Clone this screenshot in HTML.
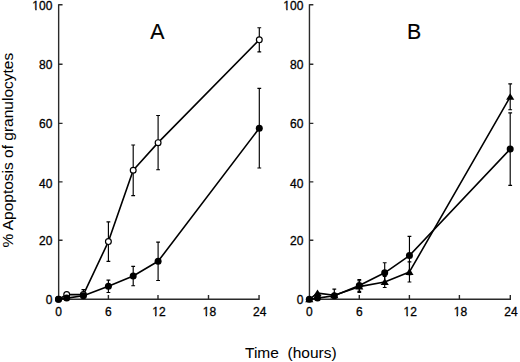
<!DOCTYPE html>
<html><head><meta charset="utf-8"><style>
html,body{margin:0;padding:0;background:#fff;}
body{width:520px;height:362px;overflow:hidden;}
svg{display:block;}
text{font-family:"Liberation Sans",sans-serif;fill:#000;stroke:#000;}
.tk{font-size:12px;stroke-width:0.3px;}
.ttl{font-size:21.3px;stroke-width:0.15px;}
.lab{font-size:15.5px;stroke-width:0.05px;}
</style></head><body>
<svg width="520" height="362" viewBox="0 0 520 362">
<path d="M58.65 4.30V299.30H259.05V295.10" fill="none" stroke="#2a2a2a" stroke-width="1.4"/>
<path d="M58.65 240.20h3.9M58.65 181.90h3.9M58.65 123.40h3.9M58.65 64.30h3.9M58.65 4.80h3.9M108.40 299.30v-4.2M158.00 299.30v-4.2M208.50 299.30v-4.2" fill="none" stroke="#2a2a2a" stroke-width="1.4"/>
<text x="52.40" y="304.00" text-anchor="end" class="tk">0</text>
<text x="52.40" y="245.00" text-anchor="end" class="tk">20</text>
<text x="52.40" y="187.70" text-anchor="end" class="tk">40</text>
<text x="52.40" y="128.00" text-anchor="end" class="tk">60</text>
<text x="52.40" y="69.00" text-anchor="end" class="tk">80</text>
<text x="52.40" y="10.00" text-anchor="end" class="tk">100</text>
<path d="M31.88 8.95H35.25V11.00H31.88ZM36.61 8.95H38.98V11.00H36.61Z" fill="#fff"/>
<text x="58.65" y="315.8" text-anchor="middle" class="tk">0</text>
<text x="108.40" y="315.8" text-anchor="middle" class="tk">6</text>
<text x="158.90" y="315.8" text-anchor="middle" class="tk">12</text>
<path d="M151.73 314.95H155.10V317.00H151.73ZM156.46 314.95H158.83V317.00H156.46Z" fill="#fff"/>
<text x="209.50" y="315.8" text-anchor="middle" class="tk">18</text>
<path d="M202.33 314.95H205.70V317.00H202.33ZM207.06 314.95H209.43V317.00H207.06Z" fill="#fff"/>
<text x="259.65" y="315.8" text-anchor="middle" class="tk">24</text>
<path d="M83.40 289.58V294.59M81.50 289.58h3.80M108.40 221.85V261.31M106.50 221.85h3.80M106.50 261.31h3.80M133.20 144.98V195.64M131.30 144.98h3.80M131.30 195.64h3.80M158.10 115.53V169.72M156.20 115.53h3.80M156.20 169.72h3.80M259.30 27.77V51.92M257.40 27.77h3.80M257.40 51.92h3.80" fill="none" stroke="#000" stroke-width="1.15"/>
<path d="M108.40 280.16V292.53M106.50 280.16h3.80M106.50 292.53h3.80M133.20 266.32V285.75M131.30 266.32h3.80M131.30 285.75h3.80M158.10 242.17V280.45M156.20 242.17h3.80M156.20 280.45h3.80M259.30 88.44V167.95M257.40 88.44h3.80M257.40 167.95h3.80" fill="none" stroke="#000" stroke-width="1.15"/>
<polyline points="58.50,299.30 66.70,294.59 83.40,294.59 108.40,241.58 133.20,170.31 158.10,142.63 259.30,39.85" fill="none" stroke="#000" stroke-width="1.6" stroke-linejoin="round"/>
<polyline points="58.50,299.30 66.70,298.12 83.40,295.77 108.40,286.34 133.20,276.03 158.10,261.31 259.30,128.20" fill="none" stroke="#000" stroke-width="1.6" stroke-linejoin="round"/>
<circle cx="58.50" cy="299.30" r="2.90" fill="#fff" stroke="#000" stroke-width="1.2"/>
<circle cx="66.70" cy="294.59" r="2.90" fill="#fff" stroke="#000" stroke-width="1.2"/>
<circle cx="83.40" cy="294.59" r="2.90" fill="#fff" stroke="#000" stroke-width="1.2"/>
<circle cx="108.40" cy="241.58" r="2.90" fill="#fff" stroke="#000" stroke-width="1.2"/>
<circle cx="133.20" cy="170.31" r="2.90" fill="#fff" stroke="#000" stroke-width="1.2"/>
<circle cx="158.10" cy="142.63" r="2.90" fill="#fff" stroke="#000" stroke-width="1.2"/>
<circle cx="259.30" cy="39.85" r="2.90" fill="#fff" stroke="#000" stroke-width="1.2"/>
<circle cx="58.50" cy="299.30" r="3.5" fill="#000"/>
<circle cx="66.70" cy="298.12" r="3.5" fill="#000"/>
<circle cx="83.40" cy="295.77" r="3.5" fill="#000"/>
<circle cx="108.40" cy="286.34" r="3.5" fill="#000"/>
<circle cx="133.20" cy="276.03" r="3.5" fill="#000"/>
<circle cx="158.10" cy="261.31" r="3.5" fill="#000"/>
<circle cx="259.30" cy="128.20" r="3.5" fill="#000"/>
<path d="M309.45 4.30V299.30H510.30V295.10" fill="none" stroke="#2a2a2a" stroke-width="1.4"/>
<path d="M309.45 240.20h3.9M309.45 181.90h3.9M309.45 123.40h3.9M309.45 64.30h3.9M309.45 4.80h3.9M359.30 299.30v-4.2M409.40 299.30v-4.2M459.40 299.30v-4.2" fill="none" stroke="#2a2a2a" stroke-width="1.4"/>
<text x="303.40" y="304.00" text-anchor="end" class="tk">0</text>
<text x="303.40" y="245.00" text-anchor="end" class="tk">20</text>
<text x="303.40" y="187.70" text-anchor="end" class="tk">40</text>
<text x="303.40" y="128.00" text-anchor="end" class="tk">60</text>
<text x="303.40" y="69.00" text-anchor="end" class="tk">80</text>
<text x="303.40" y="10.00" text-anchor="end" class="tk">100</text>
<path d="M282.88 8.95H286.25V11.00H282.88ZM287.61 8.95H289.98V11.00H287.61Z" fill="#fff"/>
<text x="309.45" y="315.8" text-anchor="middle" class="tk">0</text>
<text x="359.30" y="315.8" text-anchor="middle" class="tk">6</text>
<text x="410.30" y="315.8" text-anchor="middle" class="tk">12</text>
<path d="M403.13 314.95H406.50V317.00H403.13ZM407.86 314.95H410.23V317.00H407.86Z" fill="#fff"/>
<text x="460.40" y="315.8" text-anchor="middle" class="tk">18</text>
<path d="M453.23 314.95H456.60V317.00H453.23ZM457.96 314.95H460.33V317.00H457.96Z" fill="#fff"/>
<text x="510.90" y="315.8" text-anchor="middle" class="tk">24</text>
<path d="M359.30 279.57V291.35M357.40 279.57h3.80M357.40 291.35h3.80M384.70 262.78V282.81M382.80 262.78h3.80M382.80 282.81h3.80M409.45 236.42V274.71M407.55 236.42h3.80M407.55 274.71h3.80M510.20 112.88V185.33M508.30 112.88h3.80M508.30 185.33h3.80" fill="none" stroke="#000" stroke-width="1.15"/>
<path d="M334.30 289.14V295.18M332.40 289.14h3.80M359.30 280.75V292.53M357.40 280.75h3.80M357.40 292.53h3.80M384.70 276.51V287.52M382.80 276.51h3.80M382.80 287.52h3.80M409.45 261.90V281.98M407.55 261.90h3.80M407.55 281.98h3.80M510.20 83.81V109.79M508.30 83.81h3.80M508.30 109.79h3.80" fill="none" stroke="#000" stroke-width="1.15"/>
<polyline points="309.30,299.30 317.50,298.12 334.30,295.77 359.30,285.46 384.70,272.80 409.45,255.57 510.20,149.11" fill="none" stroke="#000" stroke-width="1.6" stroke-linejoin="round"/>
<polyline points="309.30,299.30 317.50,293.12 334.30,295.18 359.30,286.64 384.70,282.01 409.45,271.94 510.20,96.80" fill="none" stroke="#000" stroke-width="1.6" stroke-linejoin="round"/>
<path d="M309.30 295.67L313.40 302.27H305.20Z" fill="#000"/>
<path d="M317.50 289.49L321.60 296.09H313.40Z" fill="#000"/>
<path d="M334.30 291.55L338.40 298.15H330.20Z" fill="#000"/>
<path d="M359.30 283.01L363.40 289.61H355.20Z" fill="#000"/>
<path d="M384.70 278.38L388.80 284.98H380.60Z" fill="#000"/>
<path d="M409.45 268.31L413.55 274.91H405.35Z" fill="#000"/>
<path d="M510.20 93.17L514.30 99.77H506.10Z" fill="#000"/>
<circle cx="309.30" cy="299.30" r="3.5" fill="#000"/>
<circle cx="317.50" cy="298.12" r="3.5" fill="#000"/>
<circle cx="334.30" cy="295.77" r="3.5" fill="#000"/>
<circle cx="359.30" cy="285.46" r="3.5" fill="#000"/>
<circle cx="384.70" cy="272.80" r="3.5" fill="#000"/>
<circle cx="409.45" cy="255.57" r="3.5" fill="#000"/>
<circle cx="510.20" cy="149.11" r="3.5" fill="#000"/>
<text x="157.4" y="38.9" text-anchor="middle" class="ttl">A</text>
<text x="414.1" y="38.9" text-anchor="middle" class="ttl">B</text>
<text x="245" y="357.8" class="lab" xml:space="preserve">Time  (hours)</text>
<text transform="translate(12.6,247.5) rotate(-90)" class="lab">% Apoptosis of granulocytes</text>
</svg>
</body></html>
